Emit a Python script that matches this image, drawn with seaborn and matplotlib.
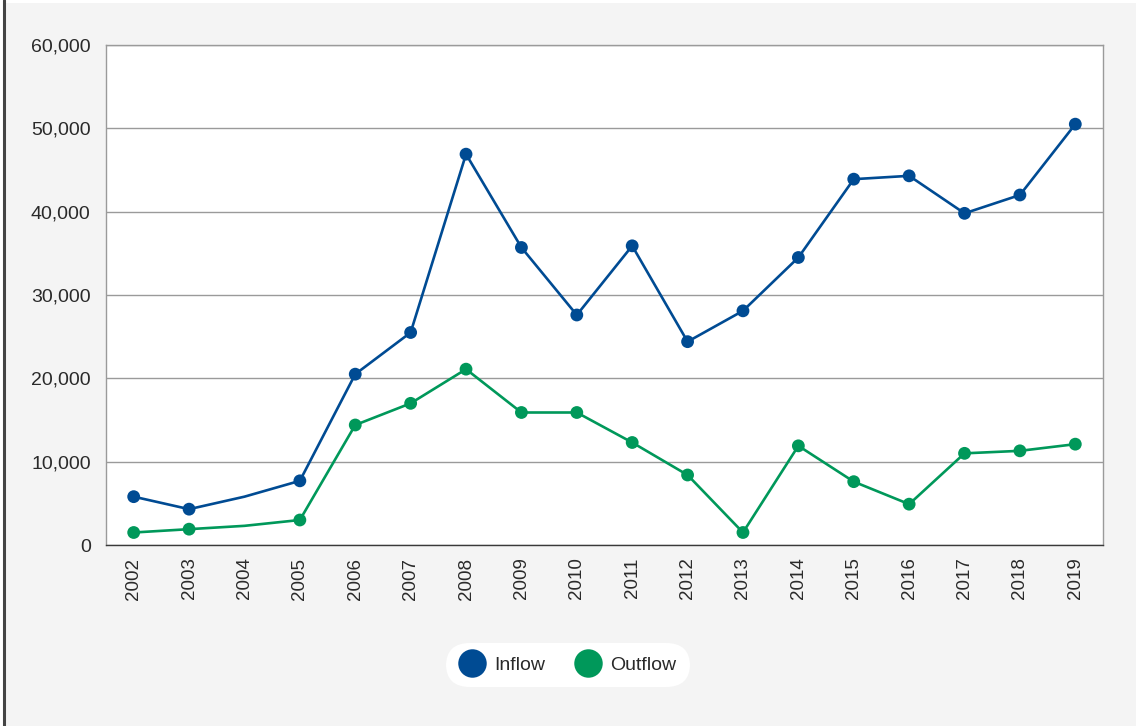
import matplotlib
matplotlib.use("Agg")
import matplotlib.pyplot as plt
from matplotlib.lines import Line2D
from matplotlib.patches import Rectangle
import seaborn as sns
import pandas as pd

years = [2002, 2003, 2004, 2005, 2006, 2007, 2008, 2009, 2010,
         2011, 2012, 2013, 2014, 2015, 2016, 2017, 2018, 2019]
inflow = [5800, 4300, 5800, 7700, 20500, 25500, 46900, 35700, 27600,
          35900, 24400, 28100, 34500, 43900, 44300, 39800, 42000, 50500]
outflow = [1500, 1900, 2300, 3000, 14400, 17000, 21100, 15900, 15900,
           12300, 8400, 1500, 11900, 7600, 4900, 11000, 11300, 12100]
# 2004 is an estimate and carries no point marker
unmarked_years = [2004]

series_names = ["Inflow", "Outflow"]
colors = {"Inflow": "#004b93", "Outflow": "#00985a"}

df = pd.DataFrame({
    "year": years * 2,
    "value": inflow + outflow,
    "series": ["Inflow"] * len(years) + ["Outflow"] * len(years),
})
df["pos"] = df["year"] - years[0]

sns.set_theme(style="white")
plt.rcParams["font.family"] = ["Liberation Sans", "DejaVu Sans"]

fig = plt.figure(figsize=(11.36, 7.26), dpi=100, facecolor="white")
# page panel and left rule
fig.patches.append(Rectangle((6 / 1136, 0), 1 - 6 / 1136, 1 - 3 / 726,
                             transform=fig.transFigure, facecolor="#f4f4f4",
                             edgecolor="none", zorder=-10))
fig.add_artist(Line2D([4 / 1136, 4 / 1136], [0, 1], transform=fig.transFigure,
                      color="#444444", linewidth=2.2))

ax = fig.add_axes([106 / 1136, 1 - 545 / 726, (1103 - 106) / 1136, 500 / 726])
ax.set_facecolor("white")

sns.lineplot(data=df, x="pos", y="value", hue="series", palette=colors,
             linewidth=1.9, legend=False, ax=ax, zorder=3)
marked = df[~df["year"].isin(unmarked_years)]
sns.scatterplot(data=marked, x="pos", y="value", hue="series", palette=colors,
                s=85, edgecolor="none", legend=False, ax=ax, zorder=4)

ax.set_xlim(-0.5, len(years) - 0.5)
ax.set_ylim(0, 60000)
ax.set_yticks(range(0, 60001, 10000))
ax.set_yticklabels([f"{v:,}" for v in range(0, 60001, 10000)])
ax.set_xticks(range(len(years)))
ax.set_xticklabels([str(y) for y in years], rotation=90)
ax.tick_params(axis="both", length=0, colors="#2a2a2a")
ax.tick_params(axis="y", pad=11, labelsize=14)
ax.tick_params(axis="x", pad=9, labelsize=13.5)
ax.yaxis.grid(True, color="#9a9a9a", linewidth=1.0)
ax.set_axisbelow(True)
ax.set_xlabel("")
ax.set_ylabel("")
for side in ["top", "right", "left"]:
    ax.spines[side].set_color("#9a9a9a")
    ax.spines[side].set_linewidth(1.0)
ax.spines["bottom"].set_color("#3a3a3a")
ax.spines["bottom"].set_linewidth(1.0)

handles = [Line2D([], [], linestyle="none", marker="o", markersize=20.5,
                  markerfacecolor=colors[n], markeredgecolor="none")
           for n in series_names]
leg = fig.legend(handles, series_names, loc="center", ncol=2,
                 bbox_to_anchor=(568 / 1136, 1 - 665 / 726),
                 frameon=True, fontsize=14, handlelength=1.2,
                 handletextpad=0.55, columnspacing=1.6, borderpad=0.4)
frame = leg.get_frame()
frame.set_facecolor("white")
frame.set_edgecolor("none")
frame.set_alpha(1)
frame.set_boxstyle("round,pad=0.3,rounding_size=1.2")
for t in leg.get_texts():
    t.set_color("#2a2a2a")

fig.savefig("out.png", dpi=100, facecolor=fig.get_facecolor())
